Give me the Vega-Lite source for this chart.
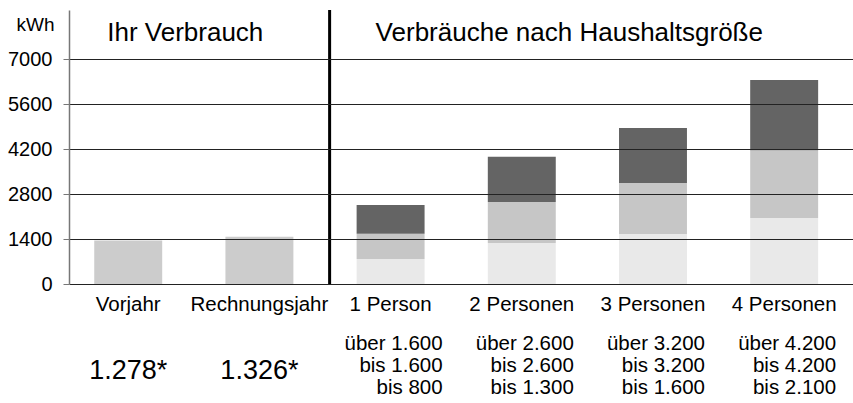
{
  "$schema": "https://vega.github.io/schema/vega-lite/v6.json",
  "width": 784,
  "height": 274,
  "autosize": {"type": "none"},
  "padding": {"left": 69, "top": 10, "right": 0, "bottom": 119},
  "background": "white",
  "config": {
    "view": {"stroke": null},
    "font": "Liberation Sans",
    "text": {"font": "Liberation Sans", "color": "black"}
  },
  "layer": [
    {
      "data": {
        "values": [
          {"kategorie": "Vorjahr", "segment": "Ihr Verbrauch", "reihenfolge": 0, "wert": 1350},
          {"kategorie": "Rechnungsjahr", "segment": "Ihr Verbrauch", "reihenfolge": 0, "wert": 1470},
          {"kategorie": "1 Person", "segment": "niedrig", "reihenfolge": 1, "wert": 780},
          {"kategorie": "1 Person", "segment": "mittel", "reihenfolge": 2, "wert": 780},
          {"kategorie": "1 Person", "segment": "hoch", "reihenfolge": 3, "wert": 900},
          {"kategorie": "2 Personen", "segment": "niedrig", "reihenfolge": 1, "wert": 1276},
          {"kategorie": "2 Personen", "segment": "mittel", "reihenfolge": 2, "wert": 1275},
          {"kategorie": "2 Personen", "segment": "hoch", "reihenfolge": 3, "wert": 1410},
          {"kategorie": "3 Personen", "segment": "niedrig", "reihenfolge": 1, "wert": 1556},
          {"kategorie": "3 Personen", "segment": "mittel", "reihenfolge": 2, "wert": 1586},
          {"kategorie": "3 Personen", "segment": "hoch", "reihenfolge": 3, "wert": 1708},
          {"kategorie": "4 Personen", "segment": "niedrig", "reihenfolge": 1, "wert": 2053},
          {"kategorie": "4 Personen", "segment": "mittel", "reihenfolge": 2, "wert": 2110},
          {"kategorie": "4 Personen", "segment": "hoch", "reihenfolge": 3, "wert": 2184}
        ]
      },
      "mark": {"type": "bar"},
      "encoding": {
        "x": {
          "field": "kategorie",
          "type": "nominal",
          "scale": {
            "domain": ["Vorjahr", "Rechnungsjahr", "1 Person", "2 Personen", "3 Personen", "4 Personen"],
            "paddingInner": 0.482,
            "paddingOuter": 0.229,
            "align": 0.42
          },
          "axis": {
            "title": null,
            "domain": false,
            "ticks": false,
            "grid": false,
            "labelAngle": 0,
            "labelFontSize": 20.5,
            "labelColor": "black",
            "labelFont": "Liberation Sans",
            "labelBaseline": "alphabetic",
            "labelPadding": 26
          }
        },
        "y": {
          "field": "wert",
          "type": "quantitative",
          "aggregate": "sum",
          "stack": "zero",
          "scale": {"domain": [0, 8525], "nice": false, "zero": true},
          "axis": {
            "values": [0, 1400, 2800, 4200, 5600, 7000],
            "format": "d",
            "zindex": 1,
            "title": "kWh",
            "titleAngle": 0,
            "titleAlign": "right",
            "titleBaseline": "alphabetic",
            "titleX": -15,
            "titleY": 20,
            "titleFontSize": 19,
            "titleFontWeight": "normal",
            "titleFont": "Liberation Sans",
            "titleColor": "black",
            "grid": true,
            "gridColor": "#222222",
            "gridWidth": 1,
            "domainColor": "#777777",
            "domainWidth": 1.5,
            "tickColor": "#777777",
            "tickSize": 6,
            "labelFontSize": 20,
            "labelColor": "black",
            "labelFont": "Liberation Sans",
            "labelPadding": 11
          }
        },
        "color": {
          "field": "segment",
          "type": "nominal",
          "scale": {
            "domain": ["Ihr Verbrauch", "niedrig", "mittel", "hoch"],
            "range": ["#cccccc", "#e9e9e9", "#c6c6c6", "#646464"]
          },
          "legend": null
        },
        "order": {"field": "reihenfolge", "type": "quantitative"}
      }
    },
    {
      "data": {"values": [{"kategorie": "1 Person"}]},
      "mark": {"type": "rule", "color": "black", "strokeWidth": 3, "xOffset": -27},
      "encoding": {
        "x": {"field": "kategorie", "type": "nominal", "bandPosition": 0},
        "y": {"datum": 0},
        "y2": {"datum": 8525}
      }
    },
    {
      "data": {"values": [{"kategorie": "Vorjahr", "text": "Ihr Verbrauch", "hoehe": 7545}]},
      "mark": {"type": "text", "align": "left", "baseline": "alphabetic", "fontSize": 26, "dx": 13},
      "encoding": {
        "x": {"field": "kategorie", "type": "nominal", "bandPosition": 0},
        "y": {"field": "hoehe", "type": "quantitative"},
        "text": {"field": "text"}
      }
    },
    {
      "data": {"values": [{"kategorie": "1 Person", "text": "Verbräuche nach Haushaltsgröße", "hoehe": 7545}]},
      "mark": {"type": "text", "align": "left", "baseline": "alphabetic", "fontSize": 26, "dx": 19},
      "encoding": {
        "x": {"field": "kategorie", "type": "nominal", "bandPosition": 0},
        "y": {"field": "hoehe", "type": "quantitative"},
        "text": {"field": "text"}
      }
    },
    {
      "data": {
        "values": [
          {"kategorie": "Vorjahr", "text": "1.278*", "hoehe": -2956},
          {"kategorie": "Rechnungsjahr", "text": "1.326*", "hoehe": -2956}
        ]
      },
      "mark": {"type": "text", "align": "center", "baseline": "alphabetic", "fontSize": 27},
      "encoding": {
        "x": {"field": "kategorie", "type": "nominal"},
        "y": {"field": "hoehe", "type": "quantitative"},
        "text": {"field": "text"}
      }
    },
    {
      "data": {
        "values": [
          {"kategorie": "1 Person", "text": "über 1.600", "hoehe": -2053},
          {"kategorie": "1 Person", "text": "bis 1.600", "hoehe": -2738},
          {"kategorie": "1 Person", "text": "bis 800", "hoehe": -3423},
          {"kategorie": "2 Personen", "text": "über 2.600", "hoehe": -2053},
          {"kategorie": "2 Personen", "text": "bis 2.600", "hoehe": -2738},
          {"kategorie": "2 Personen", "text": "bis 1.300", "hoehe": -3423},
          {"kategorie": "3 Personen", "text": "über 3.200", "hoehe": -2053},
          {"kategorie": "3 Personen", "text": "bis 3.200", "hoehe": -2738},
          {"kategorie": "3 Personen", "text": "bis 1.600", "hoehe": -3423},
          {"kategorie": "4 Personen", "text": "über 4.200", "hoehe": -2053},
          {"kategorie": "4 Personen", "text": "bis 4.200", "hoehe": -2738},
          {"kategorie": "4 Personen", "text": "bis 2.100", "hoehe": -3423}
        ]
      },
      "mark": {"type": "text", "align": "right", "baseline": "alphabetic", "fontSize": 20.5, "dx": 52},
      "encoding": {
        "x": {"field": "kategorie", "type": "nominal"},
        "y": {"field": "hoehe", "type": "quantitative"},
        "text": {"field": "text"}
      }
    }
  ]
}
